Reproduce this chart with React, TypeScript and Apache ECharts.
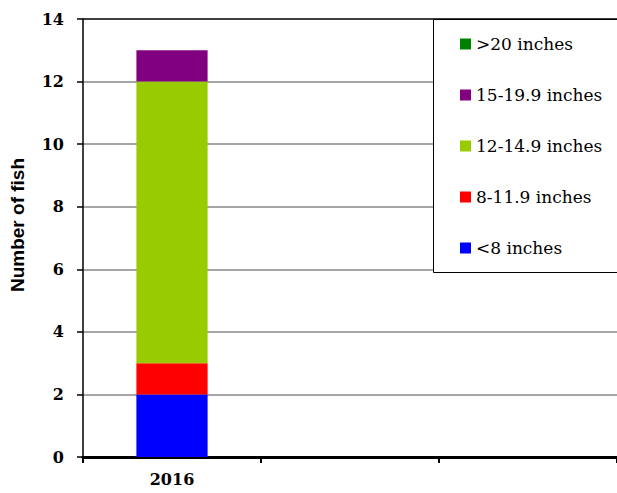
import React, { useEffect, useRef } from "react";
import * as echarts from "echarts";

const categories = ["2016", "", ""];
const seriesNames = ["<8 inches", "8-11.9 inches", "12-14.9 inches", "15-19.9 inches", ">20 inches"];
const lt8 = [2, null, null];
const r8to12 = [1, null, null];
const r12to15 = [9, null, null];
const r15to20 = [1, null, null];
const gt20 = [0, null, null];
const seriesColors = ["#0000FF", "#FF0000", "#99CC00", "#800080", "#008000"];
const yTicks = { min: 0, max: 14, interval: 2 };
const yAxisTitle = "Number of fish";

export default function App() {
  const ref = useRef<HTMLDivElement>(null);
  useEffect(() => {
    if (!ref.current) return;
    const chart = echarts.init(ref.current, null, { renderer: "svg" });
    const values = [lt8, r8to12, r12to15, r15to20, gt20];
    const serif = "DejaVu Serif";
    chart.setOption({
      animation: false,
      grid: { left: 83, right: 0, top: 19, bottom: 36, containLabel: false },
      xAxis: {
        type: "category",
        data: categories,
        boundaryGap: true,
        axisLine: { lineStyle: { color: "#000", width: 3 } },
        axisTick: { show: true, length: 6, interval: 0, lineStyle: { color: "#000", width: 2 } },
        axisLabel: { color: "#000", fontFamily: serif, fontWeight: "bold", fontSize: 16, margin: 14 },
      },
      yAxis: {
        type: "value",
        min: yTicks.min,
        max: yTicks.max,
        interval: yTicks.interval,
        axisLine: { show: true, lineStyle: { color: "#000", width: 1.5 } },
        axisTick: { show: true, length: 6, lineStyle: { color: "#000", width: 1.5 } },
        axisLabel: { color: "#000", fontFamily: serif, fontWeight: "bold", fontSize: 16, margin: 19 },
        splitLine: {
          show: true,
          lineStyle: { color: ["#888", "#888", "#888", "#888", "#888", "#888", "#888", "#000"], width: 1.5 },
        },
      },
      legend: {
        orient: "vertical",
        left: 455,
        top: 29,
        itemWidth: 11,
        itemHeight: 11,
        itemGap: 31,
        icon: "rect",
        data: [...seriesNames].reverse(),
        textStyle: { color: "#000", fontFamily: serif, fontSize: 17, lineHeight: 20 },
      },
      graphic: [
        {
          type: "rect",
          z: 3,
          shape: { x: 433.5, y: 19.5, width: 200, height: 253 },
          style: { fill: "#fff", stroke: "#000", lineWidth: 1 },
        },
        {
          type: "text",
          x: 17,
          y: 225,
          rotation: Math.PI / 2,
          style: {
            text: yAxisTitle,
            fill: "#000",
            font: "bold 19px 'Liberation Sans', Arial, sans-serif",
            align: "center",
            verticalAlign: "middle",
          },
        },
      ],
      series: seriesNames.map((name, i) => ({
        name,
        type: "bar",
        stack: "total",
        barWidth: "40%",
        data: values[i],
        itemStyle: { color: seriesColors[i] },
      })),
    });
    return () => chart.dispose();
  }, []);
  return <div ref={ref} style={{ width: 617, height: 493, position: "absolute", left: 0, top: 0 }} />;
}
